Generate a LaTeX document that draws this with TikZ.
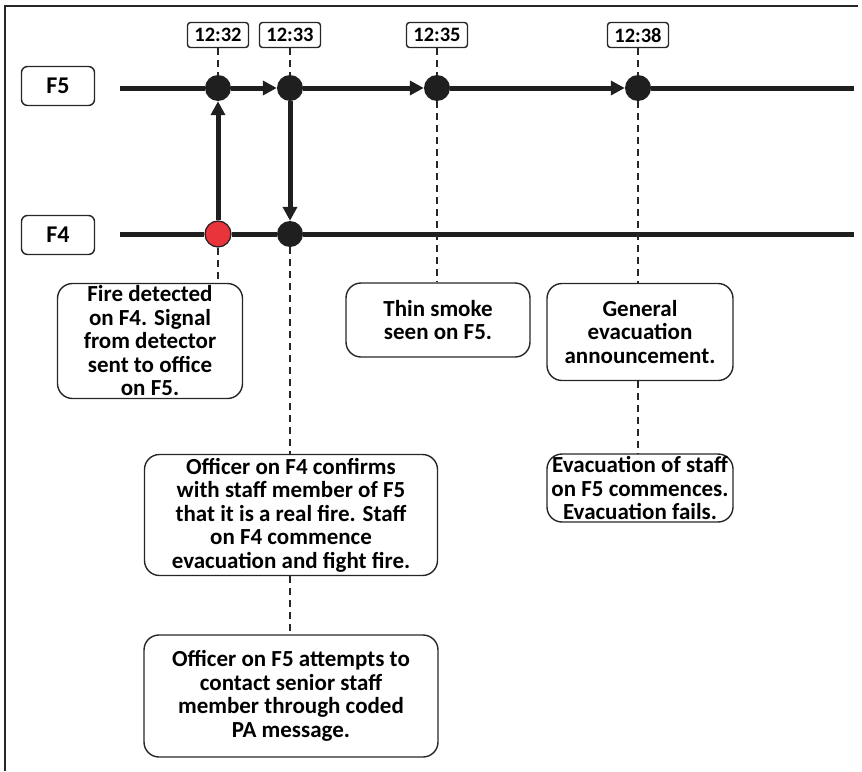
\documentclass[tikz,border=0pt]{standalone}
\usepackage{fontspec}
\setmainfont{Carlito}
\usetikzlibrary{arrows.meta,positioning}

\begin{document}
\begin{tikzpicture}[x=1pt, y=-1pt,
    floor/.style={rectangle, rounded corners=6pt, draw=black!85, line width=1.4pt,
                  minimum width=73pt, minimum height=39pt, font=\fontsize{24}{24}\selectfont\bfseries},
    time/.style={rectangle, rounded corners=3pt, draw=black!85, line width=1.4pt,
                 minimum width=61pt, minimum height=25pt, inner sep=1pt, font=\fontsize{20.5}{21}\selectfont\bfseries},
    dot/.style={circle, fill=black!88, minimum size=26pt, inner sep=0pt},
    fire/.style={dot, fill={rgb,255:red,232;green,52;blue,58}, draw=black!88, line width=1.2pt},
    event/.style={rectangle, rounded corners=15pt, draw=black!85, line width=1.4pt, align=center,
                  inner sep=2pt, font=\fontsize{23}{23.5}\selectfont\bfseries},
    axis/.style={line width=5pt, black!88},
    flow/.style={axis, -{Triangle[length=14pt, width=14pt]}},
    link/.style={dashed, dash pattern=on 7pt off 5pt, line width=1.4pt, black!85}
]
    % frame
    \useasboundingbox (0,0) rectangle (862,771);
    \draw[line width=1.4pt, black!85] (5,771) -- (5,6) -- (858,6);

    % floors
    \node[floor] (f5) at (58,86) {F5};
    \node[floor] (f4) at (58,235) {F4};
    \coordinate (s5) at (120,88);
    \coordinate (e5) at (854,88);
    \coordinate (s4) at (120,234);
    \coordinate (e4) at (854,234);

    % times
    \node[time] (t32) at (218,35) {12:32};
    \node[time] (t33) at (290,35) {12:33};
    \node[time] (t35) at (437,35) {12:35};
    \node[time] (t38) at (638,35) {12:38};

    % events on the floors
    \node[dot] (a32) at (218,88) {};
    \node[dot] (a33) at (290,88) {};
    \node[dot] (a35) at (437,88) {};
    \node[dot] (a38) at (638,88) {};
    \node[fire] (b32) at (218,234) {};
    \node[dot] (b33) at (290,234) {};

    % descriptions
    \node[event, minimum width=185pt, minimum height=115pt] (detect) at (150,341)
        {Fire detected\\on F4. Signal\\from detector\\sent to office\\on F5.};
    \node[event, minimum width=184pt, minimum height=74pt] (smoke) at (438,320)
        {Thin smoke\\seen on F5.};
    \node[event, minimum width=186pt, minimum height=97pt] (announce) at (640,332)
        {General\\evacuation\\announcement.};
    \node[event, minimum width=186pt, minimum height=68pt] (evac) at (640,488)
        {Evacuation of staff\\on F5 commences.\\Evacuation fails.};
    \node[event, minimum width=293pt, minimum height=121pt] (confirm) at (291,515)
        {Officer on F4 confirms\\with staff member of F5\\that it is a real fire. Staff\\on F4 commence\\evacuation and fight fire.};
    \node[event, minimum width=294pt, minimum height=122pt] (pa) at (291,696)
        {Officer on F5 attempts to\\contact senior staff\\member through coded\\PA message.};

    % floor lines
    \draw[axis] (s5) -- (a32);
    \draw[flow] (a32) -- (a33);
    \draw[flow] (a33) -- (a35);
    \draw[flow] (a35) -- (a38);
    \draw[axis] (a38) -- (e5);
    \draw[axis] (s4) -- (b32);
    \draw[axis] (b32) -- (b33);
    \draw[axis] (b33) -- (e4);

    % signals between floors
    \draw[flow] (b32) -- (a32);
    \draw[flow] (a33) -- (b33);

    % dashed links
    \draw[link] (t32) -- (a32);
    \draw[link] (t33) -- (a33);
    \draw[link] (t35) -- (a35);
    \draw[link] (t38) -- (a38);
    \draw[link] (b32) -- (b32 |- detect.north);
    \draw[link] (b33) -- (b33 |- confirm.north);
    \draw[link] (confirm.south -| b33) -- (b33 |- pa.north);
    \draw[link] (a35) -- (a35 |- smoke.north);
    \draw[link] (a38) -- (a38 |- announce.north);
    \draw[link] (announce.south -| a38) -- (a38 |- evac.north);

\end{tikzpicture}
\end{document}
